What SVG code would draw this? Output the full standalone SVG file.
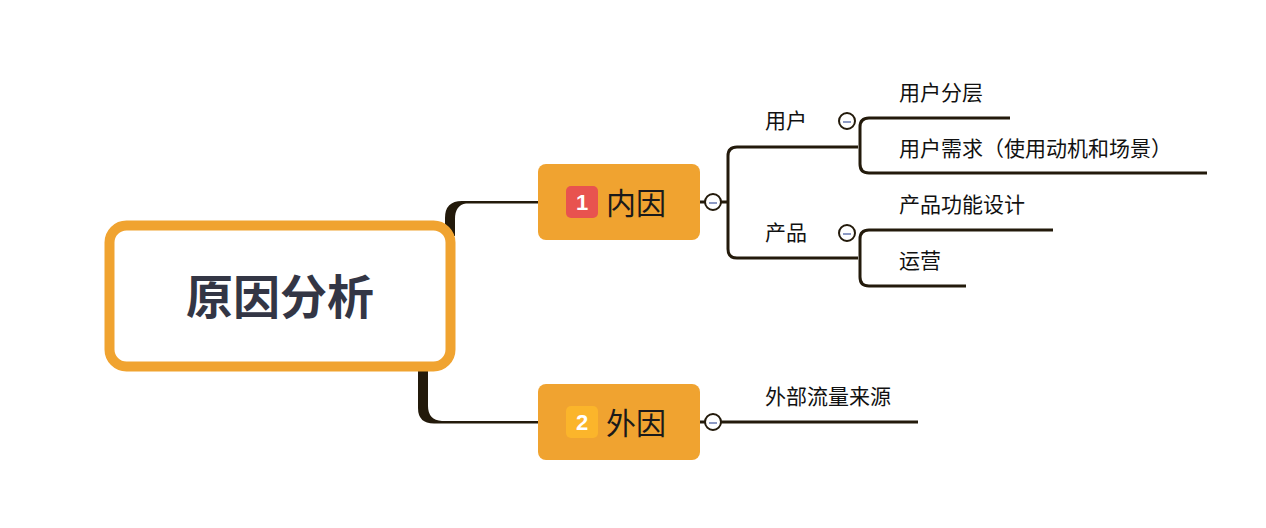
<svg xmlns="http://www.w3.org/2000/svg" width="1266" height="528" viewBox="0 0 1266 528">
<style>
.ln{fill:none;stroke:#231a0b;stroke-width:3;stroke-linecap:butt}
.tap{fill:#231a0b}
.mt{font-family:"Noto Sans CJK SC","Noto Sans",sans-serif;font-size:30px;fill:#1a1a1a}
.sub{font-family:"Noto Sans CJK SC","Noto Sans",sans-serif;font-size:21px;fill:#111}
.badge{font-family:"Liberation Sans",Arial,sans-serif;font-size:22px;font-weight:bold;fill:#fff;text-anchor:middle}
.col{fill:#fff;stroke:#231a0b;stroke-width:2}
.minus{stroke:#8d9ac4;stroke-width:2}
</style>
<rect width="1266" height="528" fill="#fff"/>
<g id="connectors">
<path class="tap" d="M445 236 L445 218 Q445 201 462 201 L538 201 L538 203.5 L466 203.5 Q455 205 455 219 L455 236 Z"/>
<path class="tap" d="M418 368 L418 408 Q418 423.5 434 423.5 L538 423.5 L538 421 L442 421 Q428 420 428 406 L428 368 Z"/>
<path class="ln" d="M700 202 L705 202 M721 202 L728 202"/>
<path class="ln" d="M858 147 L737 147 Q728 147 728 156 L728 249 Q728 258 737 258 L858 258"/>
<path class="ln" d="M1010 118 L869 118 Q860 118 860 127 L860 164 Q860 173 869 173 L1207 173"/>
<path class="ln" d="M1053 230 L869 230 Q860 230 860 239 L860 277 Q860 286 869 286 L966 286"/>
<path class="ln" d="M700 422 L705 422 M721 422 L918 422"/>
</g>
<g id="root">
<rect x="109.5" y="225.5" width="341" height="141" rx="17" fill="#fff" stroke="#f0a330" stroke-width="10"/>
<text x="280" y="314" text-anchor="middle" font-family="'Noto Sans CJK SC','Noto Sans',sans-serif" font-size="47" font-weight="bold" fill="#333645">原因分析</text>
</g>
<g id="node-neiyin">
<rect x="538" y="164" width="162" height="76" rx="8" fill="#f0a330"/>
<rect x="566" y="186" width="32" height="32" rx="5" fill="#e8534f"/>
<text class="badge" x="582" y="210">1</text>
<text class="mt" x="606" y="214">内因</text>
<circle class="col" cx="713" cy="202" r="8"/>
<line class="minus" x1="709" y1="203" x2="717" y2="203"/>
</g>
<g id="node-waiyin">
<rect x="538" y="384" width="162" height="76" rx="8" fill="#f0a330"/>
<rect x="566" y="406" width="32" height="32" rx="5" fill="#fbb52b"/>
<text class="badge" x="582" y="430">2</text>
<text class="mt" x="606" y="434">外因</text>
<circle class="col" cx="713" cy="422" r="8"/>
<line class="minus" x1="709" y1="423" x2="717" y2="423"/>
</g>
<g id="node-yonghu">
<text class="sub" x="765" y="128">用户</text>
<circle class="col" cx="847" cy="121" r="8"/>
<line class="minus" x1="843" y1="122" x2="851" y2="122"/>
</g>
<g id="node-chanpin">
<text class="sub" x="765" y="240">产品</text>
<circle class="col" cx="847" cy="233" r="8"/>
<line class="minus" x1="843" y1="234" x2="851" y2="234"/>
</g>
<g id="node-fenceng"><text class="sub" x="899" y="100">用户分层</text></g>
<g id="node-xuqiu"><text class="sub" x="899" y="156">用户需求（使用动机和场景）</text></g>
<g id="node-gongneng"><text class="sub" x="899" y="212">产品功能设计</text></g>
<g id="node-yunying"><text class="sub" x="899" y="268">运营</text></g>
<g id="node-liuliang"><text class="sub" x="765" y="404">外部流量来源</text></g>
</svg>
